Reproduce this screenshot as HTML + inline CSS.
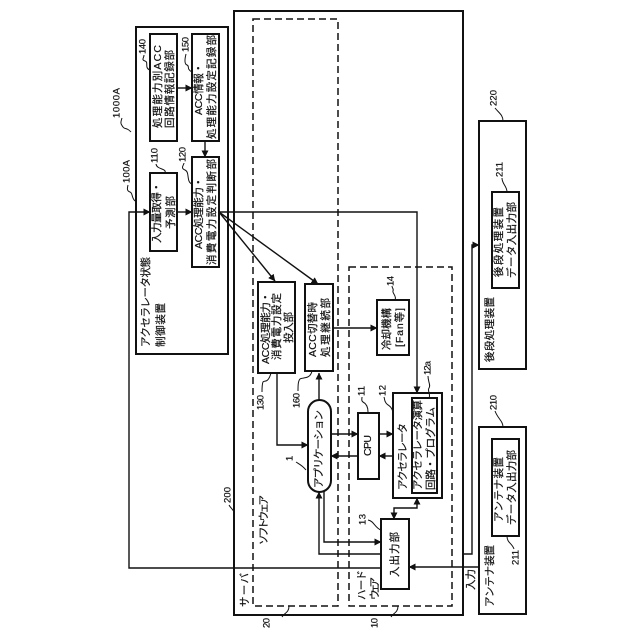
<!DOCTYPE html>
<html><head><meta charset="utf-8"><style>
html,body{margin:0;padding:0;background:#fff}
svg{display:block}
text{font-family:"Liberation Sans","Noto Sans CJK JP",sans-serif;font-size:10.5px;fill:#111;stroke:#111;stroke-width:.2;dominant-baseline:central}
.n{font-size:9.5px}
.b{fill:none;stroke:#111;stroke-width:2}
.l{fill:none;stroke:#111;stroke-width:1.4}
.d{fill:none;stroke:#111;stroke-width:1.5;stroke-dasharray:7 4}
.s{fill:none;stroke:#111;stroke-width:1}
</style></head><body>
<svg width="640" height="640" viewBox="0 0 640 640" xmlns="http://www.w3.org/2000/svg">
<defs><marker id="a" viewBox="0 0 8 8" refX="7.5" refY="4" markerWidth="7" markerHeight="7" markerUnits="userSpaceOnUse" orient="auto-start-reverse"><path d="M0 0L8 4L0 8z" fill="#111"/></marker></defs>

<!-- boxes -->
<rect class="b" x="234" y="11" width="229" height="604"/>
<rect class="d" x="253" y="19" width="85" height="587"/>
<rect class="d" x="349" y="267" width="103" height="339"/>
<rect class="b" x="136" y="27" width="92" height="327"/>
<rect class="b" x="150" y="34" width="27" height="107"/>
<rect class="b" x="192" y="34" width="27" height="107"/>
<rect class="b" x="192" y="157" width="27" height="110"/>
<rect class="b" x="150" y="173" width="27" height="78"/>
<rect class="b" x="258" y="282" width="37" height="91"/>
<rect class="b" x="305" y="284" width="28" height="87"/>
<rect class="b" x="377" y="300" width="32" height="55"/>
<rect class="b" x="308" y="400" width="23" height="92" rx="11.5" ry="11.5"/>
<rect class="b" x="358" y="413" width="21" height="66"/>
<rect class="b" x="393" y="393" width="49" height="105"/>
<rect class="b" x="412" y="398" width="25" height="95"/>
<rect class="b" x="381" y="519" width="28" height="70"/>
<rect class="b" x="479" y="121" width="47" height="248"/>
<rect class="b" x="492" y="192" width="27" height="96"/>
<rect class="b" x="479" y="427" width="47" height="187"/>
<rect class="b" x="492" y="439" width="27" height="97"/>

<!-- connectors -->
<g class="l">
<path d="M177 88H192" marker-end="url(#a)"/>
<path d="M205 141V157" marker-end="url(#a)"/>
<path d="M177 212H192" marker-end="url(#a)"/>
<path d="M381 568H129V212H150" marker-end="url(#a)"/>
<path d="M219 212H417V393" marker-end="url(#a)"/>
<path d="M219 212L275 281" marker-end="url(#a)"/>
<path d="M219 212L318 284" marker-end="url(#a)"/>
<path d="M277 373V445H308" marker-end="url(#a)"/>
<path d="M319 400V373" marker-end="url(#a)"/>
<path d="M333 328H377" marker-end="url(#a)"/>
<path d="M331 434H358" marker-end="url(#a)"/>
<path d="M358 456H331" marker-end="url(#a)"/>
<path d="M379 434H393" marker-end="url(#a)"/>
<path d="M393 456H379" marker-end="url(#a)"/>
<path d="M381 554H319V492" marker-end="url(#a)"/>
<path d="M324 491V542H381" marker-end="url(#a)"/>
<path d="M394 519V508H417V498" marker-start="url(#a)" marker-end="url(#a)"/>
<path d="M463 554H472V245H479" marker-end="url(#a)"/>
<path d="M479 567H409" marker-end="url(#a)"/>
</g>

<!-- squiggles -->
<g class="s">
<path d="M131 132C127 127 125 130 123 127S120 124 122 118"/>
<path d="M135 201C131 197 133 193 130 192S127 189 128 185"/>
<path d="M165 173C167 168 157 170 156 164"/>
<path d="M192 184C186 182 190 172 185 170S184 165 184 163"/>
<path d="M150 70C144 68 149 62 145 61S144 58 144 55"/>
<path d="M192 72C186 69 190 66 187 65S185 58 186 54"/>
<path d="M271 373C268 384 264 380 263 382S262 389 262 392"/>
<path d="M312 371C310 380 302 377 300 379S298 386 298 391"/>
<path d="M306 470C302 465 299 464 296 462"/>
<path d="M368 412C368 405 365 403 363 402S362 399 362 397"/>
<path d="M393 412C391 405 388 406 386 403S385 400 384 397"/>
<path d="M429 398C431 394 427 391 429 388S428 382 428 376"/>
<path d="M395 300C397 296 392 293 393 291S392 288 392 286"/>
<path d="M381 530C375 528 374 521 368 520"/>
<path d="M289 606C289 613 284 613 282 617"/>
<path d="M398 606C398 613 393 613 391 617"/>
<path d="M234 517C236 511 231 509 229 505"/>
<path d="M503 121C503 115 499 113 495 108"/>
<path d="M507 192C507 186 502 184 502 178"/>
<path d="M503 427C503 421 498 419 495 411"/>
<path d="M507 536C507 543 512 543 514 549"/>
</g>

<!-- labels -->
<text textLength="83" lengthAdjust="spacing" transform="translate(158 128) rotate(-90)">処理能力別ACC</text>
<text textLength="78" lengthAdjust="spacing" transform="translate(170 128) rotate(-90)">回路情報記録部</text>
<text textLength="52" lengthAdjust="spacing" transform="translate(199 115) rotate(-90)">ACC情報・</text>
<text textLength="104" lengthAdjust="spacing" transform="translate(212 139) rotate(-90)">処理能力設定記録部</text>
<text textLength="72" lengthAdjust="spacing" transform="translate(199 249) rotate(-90)">ACC処理能力・</text>
<text textLength="106" lengthAdjust="spacing" transform="translate(212 265) rotate(-90)">消費電力設定判断部</text>
<text textLength="61" lengthAdjust="spacing" transform="translate(157 243) rotate(-90)">入力量取得・</text>
<text textLength="33" lengthAdjust="spacing" transform="translate(171 229) rotate(-90)">予測部</text>
<text textLength="90" lengthAdjust="spacing" transform="translate(146 347) rotate(-90)">アクセラレータ状態</text>
<text textLength="44" lengthAdjust="spacing" transform="translate(161 347) rotate(-90)">制御装置</text>
<text textLength="72" lengthAdjust="spacing" transform="translate(266 364) rotate(-90)">ACC処理能力・</text>
<text textLength="67" lengthAdjust="spacing" transform="translate(277 360) rotate(-90)">消費電力設定</text>
<text textLength="31" lengthAdjust="spacing" transform="translate(289 343) rotate(-90)">投入部</text>
<text textLength="55" lengthAdjust="spacing" transform="translate(313 357) rotate(-90)">ACC切替時</text>
<text textLength="59" lengthAdjust="spacing" transform="translate(326 357) rotate(-90)">処理継続部</text>
<text textLength="42" lengthAdjust="spacing" transform="translate(387 350) rotate(-90)">冷却機構</text>
<text textLength="39" lengthAdjust="spacing" transform="translate(400 347) rotate(-90)">[Fan等]</text>
<text textLength="78" lengthAdjust="spacing" transform="translate(319 488) rotate(-90)">アプリケーション</text>
<text textLength="21" lengthAdjust="spacing" transform="translate(368 456) rotate(-90)">CPU</text>
<text textLength="67" lengthAdjust="spacing" transform="translate(403 490) rotate(-90)">アクセラレータ</text>
<text textLength="90" lengthAdjust="spacing" transform="translate(418 490) rotate(-90)">アクセラレータ演算</text>
<text textLength="83" lengthAdjust="spacing" transform="translate(431 490) rotate(-90)">回路・プログラム</text>
<text textLength="45" lengthAdjust="spacing" transform="translate(395 577) rotate(-90)">入出力部</text>
<text textLength="30" lengthAdjust="spacing" transform="translate(362 600) rotate(-90)">ハード</text>
<text textLength="23" lengthAdjust="spacing" transform="translate(375 600) rotate(-90)">ウェア</text>
<text textLength="50" lengthAdjust="spacing" transform="translate(264 545) rotate(-90)">ソフトウェア</text>
<text textLength="34" lengthAdjust="spacing" transform="translate(245 607) rotate(-90)">サーバ</text>
<text textLength="21" lengthAdjust="spacing" transform="translate(471 590) rotate(-90)">入力</text>
<text textLength="65" lengthAdjust="spacing" transform="translate(490 362) rotate(-90)">後段処理装置</text>
<text textLength="70" lengthAdjust="spacing" transform="translate(499 277) rotate(-90)">後段処理装置</text>
<text textLength="76" lengthAdjust="spacing" transform="translate(512 278) rotate(-90)">データ入出力部</text>
<text textLength="62" lengthAdjust="spacing" transform="translate(490 607) rotate(-90)">アンテナ装置</text>
<text textLength="65" lengthAdjust="spacing" transform="translate(499 522) rotate(-90)">アンテナ装置</text>
<text textLength="75" lengthAdjust="spacing" transform="translate(512 525) rotate(-90)">データ入出力部</text>

<!-- reference numbers -->
<g>
<text class="n" textLength="30" lengthAdjust="spacing" transform="translate(117 118) rotate(-90)">1000A</text>
<text class="n" textLength="23" lengthAdjust="spacing" transform="translate(127 183) rotate(-90)">100A</text>
<text class="n" textLength="15" lengthAdjust="spacing" transform="translate(155 163) rotate(-90)">110</text>
<text class="n" textLength="15" lengthAdjust="spacing" transform="translate(183 162) rotate(-90)">120</text>
<text class="n" textLength="15" lengthAdjust="spacing" transform="translate(143 54) rotate(-90)">140</text>
<text class="n" textLength="15" lengthAdjust="spacing" transform="translate(186 52) rotate(-90)">150</text>
<text class="n" textLength="15" lengthAdjust="spacing" transform="translate(261 410) rotate(-90)">130</text>
<text class="n" textLength="15" lengthAdjust="spacing" transform="translate(297 408) rotate(-90)">160</text>
<text class="n" transform="translate(290 461) rotate(-90)">1</text>
<text class="n" textLength="10" lengthAdjust="spacing" transform="translate(362 396) rotate(-90)">11</text>
<text class="n" textLength="11" lengthAdjust="spacing" transform="translate(383 396) rotate(-90)">12</text>
<text class="n" textLength="14" lengthAdjust="spacing" transform="translate(428 375) rotate(-90)">12a</text>
<text class="n" textLength="10" lengthAdjust="spacing" transform="translate(391 286) rotate(-90)">14</text>
<text class="n" textLength="11" lengthAdjust="spacing" transform="translate(363 525) rotate(-90)">13</text>
<text class="n" textLength="10" lengthAdjust="spacing" transform="translate(267 628) rotate(-90)">20</text>
<text class="n" textLength="10" lengthAdjust="spacing" transform="translate(375 628) rotate(-90)">10</text>
<text class="n" textLength="16" lengthAdjust="spacing" transform="translate(228 503) rotate(-90)">200</text>
<text class="n" textLength="16" lengthAdjust="spacing" transform="translate(494 106) rotate(-90)">220</text>
<text class="n" textLength="15" lengthAdjust="spacing" transform="translate(500 177) rotate(-90)">211</text>
<text class="n" textLength="15" lengthAdjust="spacing" transform="translate(494 410) rotate(-90)">210</text>
<text class="n" textLength="15" lengthAdjust="spacing" transform="translate(516 565) rotate(-90)">211</text>
</g>
</svg>
</body></html>
